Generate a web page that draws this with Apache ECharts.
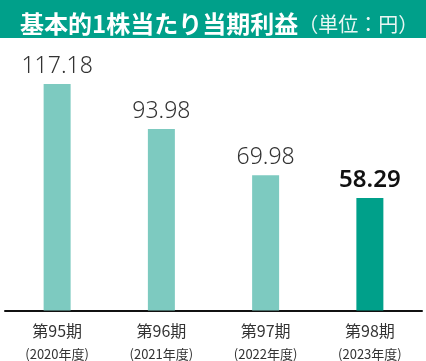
<!DOCTYPE html>
<html>
<head>
<meta charset="utf-8">
<script src="https://cdn.jsdelivr.net/npm/echarts@6/dist/echarts.min.js"></script>
<style>
html,body{margin:0;padding:0;background:#fff;}
#chart{width:426px;height:361px;}
</style>
</head>
<body>
<div id="chart"></div>
<script>
const titleMain = '基本的1株当たり当期利益';
const titleUnit = '（単位：円）';
const periods = ['第95期', '第96期', '第97期', '第98期'];
const years = ['(2020年度)', '(2021年度)', '(2022年度)', '(2023年度)'];
const values = [117.18, 93.98, 69.98, 58.29];

const categories = periods.map((p, i) => p + '\n' + years[i]);
const FONT = '"Noto Sans CJK JP", "Noto Sans", sans-serif';

const chart = echarts.init(document.getElementById('chart'), null, {renderer: 'canvas'});
chart.setOption({
  animation: false,
  backgroundColor: '#ffffff',
  graphic: [{
    type: 'rect', left: 0, top: 0, z: 0,
    shape: {width: 426, height: 38},
    style: {fill: '#00a08a'}
  }],
  title: {
    left: 15, top: 3,
    text: '{a|' + titleMain + '}{b|' + titleUnit + '}',
    textStyle: {
      rich: {
        a: {fontFamily: FONT, fontSize: 24, fontWeight: 'bold', color: '#ffffff', lineHeight: 32},
        b: {fontFamily: FONT, fontSize: 20, fontWeight: 'normal', color: '#e8f6f3', lineHeight: 32}
      }
    }
  },
  grid: {left: 5, right: 4, top: 40, bottom: 50, containLabel: false},
  xAxis: {
    type: 'category',
    data: categories,
    axisLine: {show: true, lineStyle: {color: '#111111', width: 2}},
    axisTick: {show: false},
    axisLabel: {
      margin: 8,
      interval: 0,
      formatter: function (v) {
        const parts = v.split('\n');
        return '{p|' + parts[0] + '}\n{y|' + parts[1] + '}';
      },
      rich: {
        p: {fontFamily: FONT, fontSize: 16, color: '#333333', lineHeight: 24},
        y: {fontFamily: FONT, fontSize: 13, color: '#333333', lineHeight: 24}
      }
    }
  },
  yAxis: {
    type: 'value', min: 0, max: 140,
    show: false,
    splitLine: {show: false}
  },
  series: [{
    type: 'bar',
    barWidth: 27,
    data: values.map((v, i) => ({
      value: v,
      itemStyle: {color: i === values.length - 1 ? '#00a08a' : '#7dcac0'},
      label: i === values.length - 1
        ? {fontWeight: 600, fontSize: 24, color: '#111111'}
        : {}
    })),
    label: {
      show: true,
      position: 'top',
      distance: 6,
      fontFamily: '"Noto Sans", "Open Sans", sans-serif',
      fontSize: 23,
      fontWeight: 300,
      color: '#333333',
      formatter: function (p) { return p.value.toFixed(2); }
    }
  }]
});
</script>
</body>
</html>
